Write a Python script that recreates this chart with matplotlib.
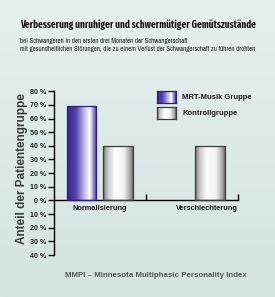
import matplotlib
matplotlib.use('Agg')
import matplotlib.pyplot as plt
import numpy as np
from matplotlib.colors import LinearSegmentedColormap

# data
categories = ['Normalisierung', 'Verschlechterung']
series = ['MRT-Musik Gruppe', 'Kontrollgruppe']
musik = [69, 0]
kontroll = [40, 40]
yticks = [-40, -30, -20, -10, 0, 10, 20, 30, 40, 50, 60, 70, 80]
ytick_labels = ['%d %%' % abs(v) for v in yticks]

title = 'Verbesserung unruhiger und schwermütiger Gemütszustände'
subtitle = ('bei Schwangeren in den ersten drei Monaten der Schwangerschaft\n'
            'mit gesundheitlichen Störungen, die zu einem Verlust der Schwangerschaft zu führen drohten')
ylabel = 'Anteil der Patientengruppe'
footer = 'MMPI – Minnesota Multiphasic Personality Index'

purple = LinearSegmentedColormap.from_list('purple', [
    (0.0, '#34268f'), (0.3, '#5543ad'), (0.6, '#c9c0ea'),
    (0.76, '#ffffff'), (0.9, '#8b7ccb'), (1.0, '#3a2c96')])
grey = LinearSegmentedColormap.from_list('grey', [
    (0.0, '#6c6c6c'), (0.15, '#c6c6c6'), (0.4, '#ffffff'),
    (0.7, '#f2f2f2'), (0.9, '#aaaaaa'), (1.0, '#6e6e6e')])
edges = {'purple': '#2a1f7a', 'grey': '#3c3c3c'}

cond = ['Fira Sans Extra Condensed', 'DejaVu Sans']
narrow = ['Archivo Narrow', 'DejaVu Sans']
plt.rcParams['font.family'] = ['Liberation Sans', 'DejaVu Sans']

fig = plt.figure(figsize=(2.75, 2.97), dpi=100)

# background
bg = fig.add_axes([0, 0, 1, 1], zorder=-10)
grad = np.linspace(0, 1, 100).reshape(-1, 1)
bg.imshow(grad, aspect='auto', extent=[0, 1, 0, 1],
          cmap=LinearSegmentedColormap.from_list('bg', ['#d4e4e2', '#e6efee']),
          origin='lower')
bg.axis('off')

ax = fig.add_axes([0.196, 0.141, 0.669, 0.552])
ax.patch.set_alpha(0)

x = np.arange(len(categories))
w = 0.326
off = 0.2


def gradient_bars(xs, hs, cmap, edge):
    bars = ax.bar(xs, hs, w, facecolor='none', edgecolor=edge, linewidth=0.9, zorder=3)
    g = np.linspace(0, 1, 256).reshape(1, -1)
    for b, h in zip(bars, hs):
        if h <= 0:
            b.set_visible(False)
            continue
        im = ax.imshow(g, aspect='auto', cmap=cmap, zorder=2,
                       extent=[b.get_x(), b.get_x() + b.get_width(), 0, h])
        im.set_clip_path(b)


gradient_bars(x - off, musik, purple, edges['purple'])
gradient_bars(x + off, kontroll, grey, edges['grey'])

ax.set_xlim(-0.5, 1.5)
ax.set_ylim(-40, 80)
ax.spines['top'].set_visible(False)
ax.spines['right'].set_visible(False)
ax.spines['bottom'].set_position(('data', 0))
ax.spines['left'].set_linewidth(1)
ax.spines['bottom'].set_linewidth(1)
ax.set_yticks(yticks, ytick_labels)
ax.tick_params(axis='y', length=4, width=1, pad=1.5, labelsize=5.1)
for t in ax.get_yticklabels():
    t.set_fontweight('bold')
    t.set_color('#222222')
ax.set_xticks([0.5, 1.5])
ax.set_xticklabels([])
ax.tick_params(axis='x', direction='in', length=4, width=1)

# category labels under the zero line
ax.text(0, -3, categories[0], ha='center', va='top', fontsize=5.3,
        fontweight='bold', color='#1e1e1e')
ax.text(1.16, -3, categories[1], ha='center', va='top', fontsize=5.3,
        fontweight='bold', color='#1e1e1e')

# legend swatches
g = np.linspace(0, 1, 256).reshape(1, -1)
for i, (cmap, edge, label) in enumerate([(purple, edges['purple'], series[0]),
                                          (grey, edges['grey'], series[1])]):
    bottom = 0.653 - i * 0.054
    sw = fig.add_axes([0.571, bottom, 0.069, 0.040])
    sw.imshow(g, aspect='auto', cmap=cmap)
    sw.set_xticks([])
    sw.set_yticks([])
    for s in sw.spines.values():
        s.set_color(edge)
        s.set_linewidth(0.9)
    fig.text(0.663, bottom + 0.020, label, ha='left', va='center',
             fontsize=5.5, fontweight='bold', color='#1e1e1e')

fig.text(0.073, 0.916, title, ha='left', va='center', fontsize=7.2,
         fontweight='bold', family=cond, color='#1a1a1a')
fig.text(0.073, 0.849, subtitle, ha='left', va='center', fontsize=4.95,
         fontweight='bold', family=narrow, color='#222222',
         linespacing=1.35)
fig.text(0.08, 0.434, ylabel, ha='center', va='center', rotation=90,
         fontsize=8.5, fontweight='bold', color='#3a3a3a')
fig.text(0.567, 0.074, footer, ha='center', va='center', fontsize=5.7,
         fontweight='bold', color='#555555')

fig.savefig('out.png', dpi=100)
